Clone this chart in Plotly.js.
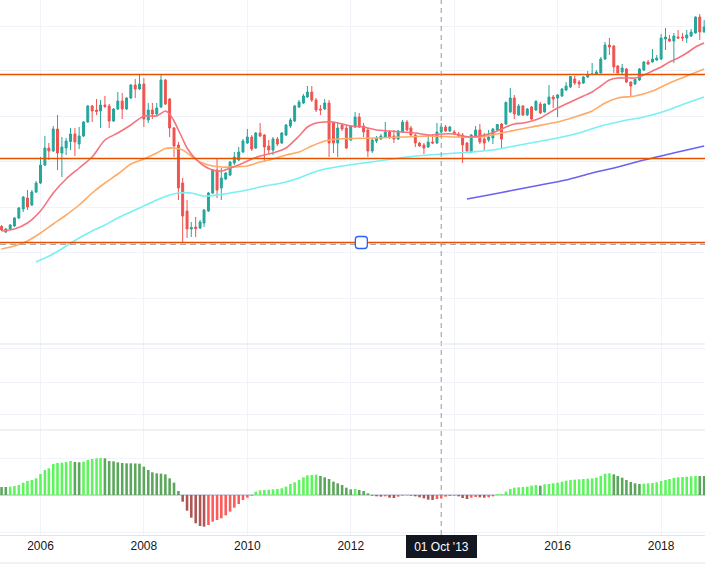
<!DOCTYPE html>
<html><head><meta charset="utf-8">
<script src="https://cdn.plot.ly/plotly-3.0.1.min.js"></script>
<style>html,body{margin:0;padding:0;background:#fff;}#chart{width:705px;height:569px;}</style>
</head><body><div id="chart"></div>
<script>
// ---------- data (monthly bars) ----------
const months = [
 "2005-04","2005-05","2005-06","2005-07","2005-08","2005-09","2005-10","2005-11","2005-12",
 "2006-01","2006-02","2006-03","2006-04","2006-05","2006-06","2006-07","2006-08","2006-09","2006-10","2006-11","2006-12",
 "2007-01","2007-02","2007-03","2007-04","2007-05","2007-06","2007-07","2007-08","2007-09","2007-10","2007-11","2007-12",
 "2008-01","2008-02","2008-03","2008-04","2008-05","2008-06","2008-07","2008-08","2008-09","2008-10","2008-11","2008-12",
 "2009-01","2009-02","2009-03","2009-04","2009-05","2009-06","2009-07","2009-08","2009-09","2009-10","2009-11","2009-12",
 "2010-01","2010-02","2010-03","2010-04","2010-05","2010-06","2010-07","2010-08","2010-09","2010-10","2010-11","2010-12",
 "2011-01","2011-02","2011-03","2011-04","2011-05","2011-06","2011-07","2011-08","2011-09","2011-10","2011-11","2011-12",
 "2012-01","2012-02","2012-03","2012-04","2012-05","2012-06","2012-07","2012-08","2012-09","2012-10","2012-11","2012-12",
 "2013-01","2013-02","2013-03","2013-04","2013-05","2013-06","2013-07","2013-08","2013-09","2013-10","2013-11","2013-12",
 "2014-01","2014-02","2014-03","2014-04","2014-05","2014-06","2014-07","2014-08","2014-09","2014-10","2014-11","2014-12",
 "2015-01","2015-02","2015-03","2015-04","2015-05","2015-06","2015-07","2015-08","2015-09","2015-10","2015-11","2015-12",
 "2016-01","2016-02","2016-03","2016-04","2016-05","2016-06","2016-07","2016-08","2016-09","2016-10","2016-11","2016-12",
 "2017-01","2017-02","2017-03","2017-04","2017-05","2017-06","2017-07","2017-08","2017-09","2017-10","2017-11","2017-12",
 "2018-01","2018-02","2018-03","2018-04","2018-05","2018-06","2018-07","2018-08","2018-09","2018-10","2018-11"
];
const openP = [
 123.5,118,121,124,132,141,152,145,158,
 167,185,202,199,221,197,202,208.5,216,206,214,228,
 244,240,239,245,244,229,241,249,241,252,265,261,
 266,230,240,236,243,270,251,222,205,167,139,121,
 123,122,127,139,157,180,162,171,175,187,190,198,
 207,213,202,217,215,204,200,211,207,215,224,229,
 243,247,253,258,250,241,241,247,227,207,225,222,
 210,223,233,224,220,199,209,211,213,218,214,211,
 218,228,222,215,207,205,203,208,207,218,223,219,
 218,216,215,207,198,214,220,211,210,212,220,226,
 226,238,252,235,244,235,243,240,246,238,246,253,
 252,254,260,263,271,268,267,273,275.5,276,277,291,
 305,304,284,278,281,268,266,270,280,288,288,290,
 291,311,311,309,313,313,312,314,317,333,318
];
const highP = [
 125,122,126,133,143,154,160,160,169,
 193,214,207,224,235,213,212,222,222,223,229,245,
 245,251,250,254,246,242,258,257,253,266,271,275,
 272,247,247,247,275,271,252,223,208,172,150,128,
 133,130,141,158,181,192,182,178,189,198,203,211,
 221,215,218,227,216,210,213,213,218,226,232,245,
 250,256,264,264,252,245,251,250,228,228,227,225,
 225,238,237,227,222,212,214,216,228,220,220,220,
 230,230,224,216,208,207,215,215,227,227,225,224,
 220,218,217,208,216,224,226,217,220,222,226,227,
 248.5,262,255,246,245,242,244,250,248,246.5,265,255,
 256,262,268,274,274,270,274,279,287,280,293,308,
 312,305,285,286,282,268.5,271.5,282,289,290,301,295,
 316,322,315,317,320,317,320,321,333.5,336,330
];
const lowP = [
 119,117,120,123,131,138,140,144,157,
 166,184,190,198,180,173,195,200,194,201,213,227,
 228,235,222,242,222,228,240,231,240,251,252,260,
 223,227,231,234,242,245,213,193,150,108,112,113,
 113,121,123,138,156,152,150,170,174,185,189,197,
 206,199,201,213,188,196,195,204,206,214,222,228,
 242,246,252,248,238,235,240,193,197,193,219,201,
 209,222,222,213,193,197,207,210,212,211,207,210,
 217,219,213,203,203,196,202,206,206,217,218,218,
 215,213,187,198,197,213,206,200,208,206,219,202,
 225,237,231,234,234,234,230,239,236,237.5,245,242,
 233,253,259,262,265,262,266,272,275,275,276.5,290,
 295,277,276.5,275,267,253,265,269,279,285,287.5,289,
 290,300,308,287,311,309,307,313,316.5,310,317.5
];
const closeP = [
 120,121,125,132,142,153,143,158,167,
 185,202,199,221,197,203,209,216,208,214,228,244,
 239,238.5,245,243.5,229,241,249,241,252,265,261,266,
 231,240,236,242,270,246,222,204,162,134,121,122.5,
 121.5,128,140,157,180,160,172,177,188,193,198,209,
 213,201,217,214,203,200,211,206,217,225,230,244,
 248,254,258,250,240,240,247,207,207,222,221,202,
 224,233,223,218,199,210,212,214,218,213,211,219,
 228,220,215,207,204,202,208,207,218,223,219,223,
 216,214,205,199,215,220,208,207,213,221,225.5,211,
 247.5,252,236,244,235,241,231,248.5,237,246,253,251,
 255,261,264,273.5,267,266,273,275,276,278,291,305,
 303,283,277,282,268,264,270.5,281,288,286,291,292,
 312,313,309,314,312,312,315,318,333,318,323
];
// lower-pane histogram (oscillator)
const oscValues = [
 24,24,25,27,30,37,42,45,50,
 63,75,80,93,96,97,99,102,99,98,100,105,
 108,110,111,110,102,101,98,96,95,95,94.5,94,
 85,75,68,65,64,62,50,37,12,-20,-47,-68,
 -85,-93,-95,-90,-80,-75,-70,-61,-50,-38,-27,-15,
 -8,-2,10,14,15,16,17,18,20,25,33,38,
 45,53,59,60,61,57,53,48,40,35,30,22,
 17,18,15,12,5,-2,-4,-5,-4,-8,-9,-5,
 -2,-1,-2,-4,-7,-10,-14,-15,-12,-10,-5,-3,
 -2,-4,-9,-12,-8,-6,-7,-8,-7,-4,3,1,
 10,18,22,23,24,25,28,30,28,32,33,35,
 37,40,43,45,46,47,48,49,50,52,57,64,
 65,62,57,52,45,39,35,33,34,35,36,38,
 42,45,48,51,53,54,55,56,57,57,57
];
// moving averages
const maFastDates = ["2005-04","2005-07","2005-10","2006-01","2006-04","2006-07","2006-10","2007-01","2007-04","2007-07","2007-10","2008-01","2008-04","2008-06","2008-07","2008-08","2008-09","2008-10","2008-11","2008-12","2009-01","2009-03","2009-05","2009-07","2009-09","2009-11","2010-01","2010-04","2010-07","2010-10","2011-01","2011-03","2011-05","2011-07","2011-09","2011-11","2012-01","2012-04","2012-07","2012-10","2013-01","2013-04","2013-07","2013-10","2014-01","2014-03","2014-05","2014-07","2014-09","2014-11","2015-01","2015-03","2015-05","2015-07","2015-09","2015-11","2016-01","2016-03","2016-05","2016-07","2016-09","2016-11","2017-01","2017-03","2017-05","2017-07","2017-09","2017-11","2018-01","2018-03","2018-05","2018-07","2018-09","2018-11"];
const maFast = [119,121,127,139,157,171,182,193,210,217,225,234,234,239,236,229,220,211,202,196,191,184,180,179,182,185,189,194,197,202,214,223,227,228,228,226,224,223,220,219,218,217,215,216,216,214,213,214,216,219,223,226,227,229,232,237,242,246,250,254,258,264,270,272,272,272,275,279,283,288,292,297,303,307];
const maMidDates = ["2005-04","2005-07","2005-10","2006-01","2006-04","2006-07","2006-10","2007-01","2007-04","2007-07","2007-10","2008-01","2008-04","2008-06","2008-08","2008-10","2008-12","2009-02","2009-04","2009-07","2009-10","2010-01","2010-04","2010-07","2010-10","2011-01","2011-04","2011-07","2011-10","2012-01","2012-07","2013-01","2013-07","2014-01","2014-07","2015-01","2015-07","2016-01","2016-05","2016-09","2016-12","2017-03","2017-07","2017-11","2018-03","2018-07","2018-11"];
const maMid = [101,104,109,117,126,135,145,157,167,176,186,191,197,201.5,202,200,194,188,185,183,183,184,188,191,195,198,204,209,211,211.5,212,213,214,213,213,218,223,228,233,239,247,252,254,259,267,274,281];
const maSlowDates = ["2005-12","2006-01","2006-04","2006-07","2006-10","2007-01","2007-04","2007-07","2007-10","2008-01","2008-04","2008-07","2008-09","2008-12","2009-03","2009-06","2009-09","2010-01","2010-05","2010-09","2011-01","2011-04","2011-07","2011-11","2012-04","2012-09","2013-02","2013-07","2013-12","2014-05","2014-10","2015-03","2015-08","2016-01","2016-06","2016-11","2017-04","2017-09","2018-02","2018-07","2018-11"];
const maSlow = [88,90,96,104,112,119,125,132,138,144,150,155,157,157,154,155,157,160,164,167,172,177,181,184,187,190,193,195,196.5,198,200,204,208,212,217,224,229,233,239,247,253];
const maLongDates = ["2014-04","2014-09","2015-03","2015-09","2016-03","2016-09","2017-03","2017-09","2018-03","2018-07","2018-11"];
const maLong = [151,155,160,165,170,177,183,190,196,200,204];
// horizontal price levels
const levels = [275.6, 191.6, 107.5];
const dashedLevel = 105.7;
const handleDate = "2012-03-16";
const crosshairDate = "2013-10-01";
const crosshairLabel = "01 Oct '13";
const xTickVals = ["2006-01-01","2008-01-01","2010-01-01","2012-01-01","2014-01-01","2016-01-01","2018-01-01"];
// the 2014 label sits under the crosshair date label in the reference, so it shows no text
const xTickText = ["2006","2008","2010","2012","","2016","2018"];
const mainGrid = [52, 97.5, 143, 188.5, 234, 279.5, 324];

// ---------- styling ----------
const FONT = "Liberation Sans, Arial, sans-serif";
const GRID = "#f0f3fa";
const SEP = "#e0e3eb";
const H = 535; // plot-area height in px (0..535)
const py = px => (H - px) / H;

const oscColors = oscValues.map((v, i) => {
  const p = i === 0 ? v : oscValues[i - 1];
  if (v >= 0) return v > p ? "#5cf55c" : "#5aa65a";
  return v < p ? "#ad5656" : "#ff5a5a";
});

const maLine = (x, y, color) => ({
  type: "scatter", mode: "lines", x: x, y: y, xaxis: "x", yaxis: "y",
  line: {color: color, width: 1.6, shape: "spline", smoothing: 0.7},
  hoverinfo: "skip"
});

const traces = [
  maLine(maLongDates, maLong, "#6a62f2"),
  maLine(maSlowDates, maSlow, "#78f0f4"),
  maLine(maMidDates, maMid, "#ffaa66"),
  maLine(maFastDates, maFast, "#f5737d"),
  {
    type: "candlestick", x: months, open: openP, high: highP, low: lowP, close: closeP,
    xaxis: "x", yaxis: "y", whiskerwidth: 0,
    increasing: {line: {color: "#26a69a", width: 1}, fillcolor: "#26a69a"},
    decreasing: {line: {color: "#ef5350", width: 1}, fillcolor: "#ef5350"},
    hoverinfo: "skip"
  },
  {type: "scatter", x: [], y: [], xaxis: "x", yaxis: "y2", hoverinfo: "skip"},
  {
    type: "bar", x: months, y: oscValues, xaxis: "x", yaxis: "y3",
    marker: {color: oscColors, line: {width: 0}}, hoverinfo: "skip"
  }
];

const shapes = [];
levels.forEach(v => shapes.push({type: "line", xref: "paper", x0: 0, x1: 1, yref: "y", y0: v, y1: v,
  line: {color: "#e65100", width: 1.5}, layer: "above"}));
shapes.push({type: "line", xref: "paper", x0: 0, x1: 1, yref: "y", y0: dashedLevel, y1: dashedLevel,
  line: {color: "#9598a1", width: 1, dash: "6px,4px"}, layer: "above"});
shapes.push({type: "line", xref: "x", x0: crosshairDate, x1: crosshairDate, yref: "paper", y0: 0, y1: 1,
  line: {color: "#9598a1", width: 1, dash: "5px,4px"}, layer: "above"});
[344, 430].forEach(px => shapes.push({type: "line", xref: "paper", x0: 0, x1: 1, yref: "paper",
  y0: py(px), y1: py(px), line: {color: SEP, width: 1}, layer: "above"}));
shapes.push({type: "line", xref: "paper", x0: 0, x1: 1, yref: "paper", y0: py(563), y1: py(563),
  line: {color: SEP, width: 1}});
shapes.push({type: "path", xref: "x", xsizemode: "pixel", xanchor: handleDate,
  yref: "y", ysizemode: "pixel", yanchor: levels[2],
  path: "M-3,-6 L3,-6 Q6,-6 6,-3 L6,3 Q6,6 3,6 L-3,6 Q-6,6 -6,3 L-6,-3 Q-6,-6 -3,-6 Z",
  fillcolor: "#ffffff", line: {color: "#2962ff", width: 1.3}, layer: "above"});

const layout = {
  width: 705, height: 569,
  margin: {l: 0, r: 0, t: 0, b: 34, pad: 0},
  paper_bgcolor: "#ffffff", plot_bgcolor: "#ffffff",
  showlegend: false, hovermode: false, dragmode: false,
  bargap: 0.35,
  xaxis: {
    type: "date", range: ["2005-03-21", "2018-11-07"], anchor: "y3",
    tickmode: "array", tickvals: xTickVals, ticktext: xTickText,
    showgrid: true, gridcolor: GRID, gridwidth: 1, zeroline: false,
    showline: true, linecolor: SEP, linewidth: 1, ticks: "",
    tickfont: {family: FONT, size: 12, color: "#131722"},
    rangeslider: {visible: false}, fixedrange: true
  },
  yaxis: {domain: [py(344), 1], range: [6, 350], anchor: "x", tickmode: "array", tickvals: mainGrid,
    showticklabels: false, showgrid: true, gridcolor: GRID, zeroline: false, fixedrange: true},
  yaxis2: {domain: [py(430), py(344)], range: [0, 86], anchor: "x", tickmode: "array", tickvals: [16, 48, 82],
    showticklabels: false, showgrid: true, gridcolor: GRID, zeroline: false, fixedrange: true},
  yaxis3: {domain: [0, py(430)], range: [-120, 195], anchor: "x", tickmode: "array", tickvals: [-111, 111],
    showticklabels: false, showgrid: true, gridcolor: GRID,
    zeroline: true, zerolinecolor: "#d1d4dc", zerolinewidth: 2, fixedrange: true},
  shapes: shapes,
  annotations: [{
    x: crosshairDate, xref: "x", y: py(546.5), yref: "paper",
    text: crosshairLabel, showarrow: false, xanchor: "center", yanchor: "middle",
    font: {family: FONT, size: 12, color: "#ffffff"},
    bgcolor: "#131722", borderpad: 4, borderwidth: 1, bordercolor: "#131722",
    width: 61, height: 13
  }]
};

Plotly.newPlot("chart", traces, layout, {displayModeBar: false, staticPlot: true});
</script>
</body></html>
